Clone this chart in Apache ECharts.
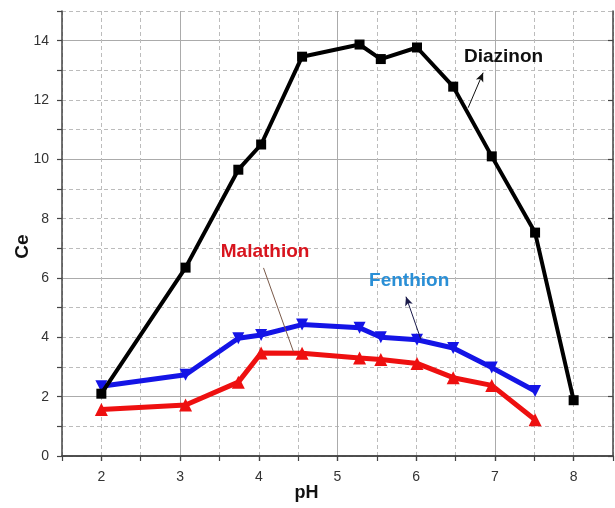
<!DOCTYPE html>
<html>
<head>
<meta charset="utf-8">
<script src="https://cdn.jsdelivr.net/npm/echarts@6/dist/echarts.min.js"></script>
<style>
html,body{margin:0;padding:0;background:#fff;}
#chart{width:615px;height:508px;}
</style>
</head>
<body>
<div id="chart"></div>
<script>
// pH values (x) shared by the three series
var pH = [2.0, 3.07, 3.74, 4.03, 4.55, 5.28, 5.55, 6.01, 6.47, 6.96, 7.51, 8.0];
// Ce values
var diazinon  = [2.1, 6.35, 9.65, 10.5, 13.46, 13.87, 13.38, 13.77, 12.45, 10.1, 7.53, 1.88];
var fenthion  = [2.35, 2.74, 3.97, 4.08, 4.43, 4.32, 4.0, 3.92, 3.64, 2.98, 2.19];
var malathion = [1.57, 1.72, 2.49, 3.47, 3.46, 3.3, 3.25, 3.12, 2.64, 2.38, 1.22];
// axis tick labels
var xTickLabels = [2, 3, 4, 5, 6, 7, 8];
var yTickLabels = [0, 2, 4, 6, 8, 10, 12, 14];

function pairs(ys) { return ys.map(function (y, i) { return [pH[i], y]; }); }

var chart = echarts.init(document.getElementById('chart'), null, {renderer: 'canvas'});
var font = 'Liberation Sans, Arial, sans-serif';
var axisColor = '#444';

var option = {
  animation: false,
  backgroundColor: '#fff',
  grid: {left: 62, right: 2, top: 11, bottom: 52, containLabel: false, outerBoundsMode: 'none'},
  xAxis: [
    {
      type: 'value', position: 'bottom', min: 1.5, max: 8.5, interval: 0.5,
      name: 'pH', nameLocation: 'middle', nameGap: 28, nameMoveOverlap: false,
      nameTextStyle: {fontFamily: font, fontWeight: 'bold', fontSize: 18, color: '#111', padding: [0, 62, 0, 0]},
      axisLine: {show: true, lineStyle: {color: axisColor, width: 1.5}},
      axisTick: {show: true, inside: false, length: 5, lineStyle: {color: axisColor, width: 1.2}},
      axisLabel: {
        margin: 14, fontFamily: font, fontSize: 14, color: '#333',
        formatter: function (v) { return xTickLabels.indexOf(v) >= 0 ? String(v) : ''; }
      },
      splitLine: {show: true, lineStyle: {type: [4, 3], color: '#bcbcbc', width: 1}}
    },
    {
      type: 'value', position: 'top', min: 1.5, max: 8.5, interval: 0.5,
      axisLine: {show: true, lineStyle: {color: axisColor, width: 1.5}},
      axisTick: {show: true, inside: true, length: 5, customValues: xTickLabels, lineStyle: {color: axisColor, width: 1.2}},
      axisLabel: {show: false},
      splitLine: {show: true, showMinLine: true, showMaxLine: true, lineStyle: {color: ['rgba(0,0,0,0)', '#ababab'], width: 1}}
    }
  ],
  yAxis: [
    {
      type: 'value', position: 'left', min: 0, max: 15, interval: 1,
      name: 'Ce', nameLocation: 'middle', nameGap: 30, nameRotate: 90, nameMoveOverlap: false,
      nameTextStyle: {fontFamily: font, fontWeight: 'bold', fontSize: 19, color: '#111', padding: [0, 26, 0, 0]},
      axisLine: {show: true, lineStyle: {color: axisColor, width: 1.5}},
      axisTick: {show: true, inside: false, length: 5, lineStyle: {color: axisColor, width: 1.2}},
      axisLabel: {
        margin: 13, fontFamily: font, fontSize: 14, color: '#333',
        formatter: function (v) { return yTickLabels.indexOf(v) >= 0 ? String(v) : ''; }
      },
      splitLine: {show: true, lineStyle: {type: [4, 3], color: '#bcbcbc', width: 1}}
    },
    {
      type: 'value', position: 'right', min: 0, max: 15, interval: 1,
      axisLine: {show: true, lineStyle: {color: axisColor, width: 1.5}},
      axisTick: {show: true, inside: true, length: 5, customValues: yTickLabels, lineStyle: {color: axisColor, width: 1.2}},
      axisLabel: {show: false},
      splitLine: {show: true, showMinLine: true, showMaxLine: true, lineStyle: {color: ['rgba(0,0,0,0)', '#ababab'], width: 1}}
    }
  ],
  series: [
    {
      name: 'Diazinon', type: 'line', data: pairs(diazinon), z: 5,
      symbol: 'rect', symbolSize: 10,
      lineStyle: {color: '#000', width: 4},
      itemStyle: {color: '#000'},
      markLine: {
        silent: true, symbol: ['none', 'arrow'], symbolSize: [6, 9],
        lineStyle: {color: '#111', width: 1, type: 'solid'}, label: {show: false},
        data: [[{coord: [6.66, 11.74]}, {coord: [6.85, 12.92]}]]
      },
      markPoint: {
        silent: true, symbol: 'circle', symbolSize: 0,
        label: {show: true, position: 'inside', formatter: '{b}', fontFamily: font, fontWeight: 'bold', fontSize: 19, color: '#111'},
        data: [{name: 'Diazinon', coord: [7.11, 13.46]}]
      }
    },
    {
      name: 'Fenthion', type: 'line', data: pairs(fenthion), z: 4,
      symbol: 'triangle', symbolRotate: 180, symbolSize: 12,
      lineStyle: {color: '#1414e6', width: 5},
      itemStyle: {color: '#1414e6'},
      markLine: {
        silent: true, symbol: ['none', 'arrow'], symbolSize: [6, 9],
        lineStyle: {color: '#1a1a4a', width: 1, type: 'solid'}, label: {show: false},
        data: [[{coord: [6.06, 3.93]}, {coord: [5.87, 5.37]}]]
      },
      markPoint: {
        silent: true, symbol: 'circle', symbolSize: 0,
        label: {show: true, position: 'inside', formatter: '{b}', fontFamily: font, fontWeight: 'bold', fontSize: 19, color: '#2a8fd6'},
        data: [{name: 'Fenthion', coord: [5.91, 5.91]}]
      }
    },
    {
      name: 'Malathion', type: 'line', data: pairs(malathion), z: 3,
      symbol: 'triangle', symbolSize: 13,
      lineStyle: {color: '#ee1010', width: 5},
      itemStyle: {color: '#ee1010'},
      markLine: {
        silent: true, symbol: ['none', 'none'],
        lineStyle: {color: '#7a5a4a', width: 1, type: 'solid'}, label: {show: false},
        data: [[{coord: [4.06, 6.34]}, {coord: [4.44, 3.52]}]]
      },
      markPoint: {
        silent: true, symbol: 'circle', symbolSize: 0,
        label: {show: true, position: 'inside', formatter: '{b}', fontFamily: font, fontWeight: 'bold', fontSize: 19, color: '#d8141e'},
        data: [{name: 'Malathion', coord: [4.08, 6.88]}]
      }
    }
  ]
};
chart.setOption(option);
</script>
</body>
</html>
